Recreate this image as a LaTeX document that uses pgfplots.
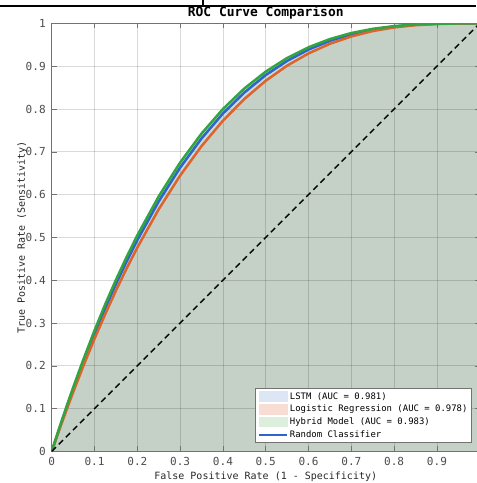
\documentclass[border=0pt]{standalone}
\usepackage{pgfplots}
\pgfplotsset{compat=1.18}
\usepackage{fontspec}
\setmainfont{DejaVu Sans Mono}

\definecolor{lstmblue}{RGB}{45,100,205}
\definecolor{lrorange}{RGB}{220,100,45}
\definecolor{hybgreen}{RGB}{50,165,65}
\definecolor{lstmfill}{RGB}{220,230,245}
\definecolor{lrfill}{RGB}{247,221,211}
\definecolor{hybfill}{RGB}{220,239,220}
\definecolor{areaA}{RGB}{214,230,212}
\definecolor{areaB}{RGB}{206,218,214}
\definecolor{areaC}{RGB}{197,208,198}
\definecolor{labgray}{RGB}{40,40,40}

% ROC points (FPR, TPR) read off the reference
\pgfplotstableread{
x      lstm   lr     hyb
0      0      0      0
0.01   0.0302 0.0287 0.0312
0.02   0.0598 0.0569 0.0617
0.035  0.1030 0.0981 0.1061
0.05   0.1448 0.1382 0.1492
0.075  0.2115 0.2024 0.2176
0.10   0.2748 0.2633 0.2825
0.125  0.3348 0.3208 0.3437
0.15   0.3908 0.3758 0.4007
0.175  0.4439 0.4276 0.4543
0.20   0.4937 0.4764 0.5048
0.25   0.5841 0.5658 0.5959
0.30   0.6631 0.6445 0.6749
0.35   0.7312 0.7133 0.7426
0.40   0.7895 0.7727 0.7999
0.45   0.8385 0.8234 0.8479
0.50   0.8793 0.8660 0.8873
0.55   0.9124 0.9013 0.9192
0.60   0.9389 0.9299 0.9442
0.65   0.9593 0.9524 0.9634
0.70   0.9746 0.9696 0.9775
0.75   0.9854 0.9821 0.9873
0.80   0.9926 0.9906 0.9937
0.85   0.9969 0.9959 0.9975
0.90   0.9991 0.9987 0.9993
0.95   0.9999 0.9998 0.9999
1.00   1      1      1
}\roc

\begin{document}
\begin{tikzpicture}
\begin{axis}[
    set layers,
    at={(0,0)}, anchor=south west,
    scale only axis, width=321pt, height=321pt,
    xmin=0, xmax=1, ymin=0, ymax=1,
    xtick={0,0.1,0.2,0.3,0.4,0.5,0.6,0.7,0.8,0.9,1},
    ytick={0,0.1,0.2,0.3,0.4,0.5,0.6,0.7,0.8,0.9,1},
    xticklabels={0,0.1,0.2,0.3,0.4,0.5,0.6,0.7,0.8,0.9,{}},
    yticklabels={0,0.1,0.2,0.3,0.4,0.5,0.6,0.7,0.8,0.9,1},
    /pgf/number format/assume math mode=true,
    tick align=inside, major tick length=3.75pt,
    tick style={black!55, line width=0.4pt},
    axis line style={black!55, line width=0.5pt},
    ticklabel style={font=\fontsize{8.3}{9}\selectfont, text=black!70},
    xticklabel style={yshift=-1pt},
    yticklabel style={xshift=-1pt},
    grid=major,
    major grid style={black, opacity=0.15, line width=0.5pt},
    xlabel={False Positive Rate (1 - Specificity)},
    ylabel={True Positive Rate (Sensitivity)},
    label style={font=\fontsize{7.5}{9}\selectfont, text=labgray},
    xlabel style={at={(axis description cs:0.5,-0.060)}, anchor=center},
    ylabel style={at={(axis description cs:-0.069,0.5)}, anchor=center},
    legend style={at={(rel axis cs:0.982,0.0196)}, anchor=south east,
                  font=\fontsize{6.7}{8}\selectfont, draw=black!55,
                  line width=0.5pt, inner xsep=2pt, inner ysep=1.5pt,
                  row sep=0.5pt, nodes={inner sep=1.2pt}},
    legend cell align=left,
]

% filled areas under the curves
\addplot[draw=none, fill=areaA, on layer=axis background, forget plot]
    table[x=x, y=hyb] {\roc} \closedcycle;
\addplot[draw=none, fill=areaB, on layer=axis background, forget plot]
    table[x=x, y=lstm] {\roc} \closedcycle;
\addplot[draw=none, fill=areaC, on layer=axis background, forget plot]
    table[x=x, y=lr] {\roc} \closedcycle;

% legend as drawn in the reference
\addlegendimage{legend image code/.code={\fill[lstmfill] (0pt,-3.6pt) rectangle (21pt,3.6pt);}}
\addlegendentry{LSTM (AUC = 0.981)}
\addlegendimage{legend image code/.code={\fill[lrfill] (0pt,-3.6pt) rectangle (21pt,3.6pt);}}
\addlegendentry{Logistic Regression (AUC = 0.978)}
\addlegendimage{legend image code/.code={\fill[hybfill] (0pt,-3.6pt) rectangle (21pt,3.6pt);}}
\addlegendentry{Hybrid Model (AUC = 0.983)}
\addlegendimage{legend image code/.code={\draw[lstmblue, line width=1.5pt] (0pt,0pt) -- (21pt,0pt);}}
\addlegendentry{Random Classifier}

% curves
\addplot[lstmblue, line width=1.9pt, forget plot] table[x=x, y=lstm] {\roc};
\addplot[lrorange, line width=1.9pt, forget plot] table[x=x, y=lr] {\roc};
\addplot[hybgreen, line width=1.9pt, forget plot] table[x=x, y=hyb] {\roc};
\addplot[black, line width=1.1pt, dash pattern=on 4.5pt off 3pt, forget plot]
    coordinates {(0,0) (1,1)};
\end{axis}
\node[anchor=base, font=\fontsize{9.7}{11}\selectfont\bfseries]
    at (160.5pt,325.8pt) {ROC Curve Comparison};
\pgfresetboundingbox
\path[use as bounding box] (-38.8pt,-23.7pt) rectangle (318.2pt,338.55pt);
\draw[line width=0.8pt] (-38.8pt,334.05pt) -- (318.2pt,334.05pt)
    (113.45pt,334.05pt) -- (113.45pt,338.55pt);
\end{tikzpicture}
\end{document}
